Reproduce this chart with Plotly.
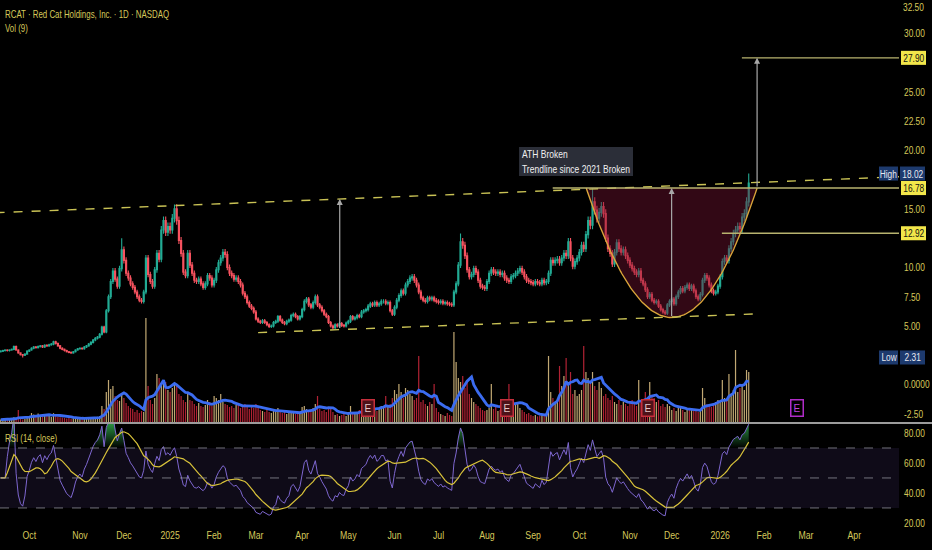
import json
import numpy as np
import pandas as pd
import plotly.graph_objects as go

# ---------------- data ----------------
# daily closes per month
sep24 = [2.85, 2.9, 2.95, 2.9, 2.95, 3.0, 3.25, 2.95, 2.7, 2.55, 2.5, 2.6, 2.85]
oct24 = [2.95, 3.1, 3.2, 3.15, 3.25, 3.3, 3.2, 3.35, 3.3, 3.4, 3.45, 3.65, 3.5, 3.3, 3.1, 3.0, 2.9, 2.8, 2.75, 2.7, 2.8, 2.95, 3.05]
nov24 = [3.1, 3.05, 3.2, 3.3, 3.45, 3.6, 3.8, 3.95, 4.05, 4.3, 4.9, 4.5, 6.3, 7.5, 8.8, 9.7, 9.0, 8.4, 9.9, 11.5]
dec24 = [10.6, 9.5, 9.1, 8.6, 8.3, 7.9, 7.5, 7.2, 7.1, 7.9, 10.8, 9.4, 8.8, 8.4, 9.8, 11.2, 10.7, 13.2, 14.0, 13.0, 13.5]
jan25 = [13.2, 14.2, 15.0, 14.0, 12.3, 11.2, 9.6, 9.3, 11.2, 10.2, 9.5, 8.9, 8.8, 9.0, 8.6, 8.3, 8.6, 9.3, 9.1, 8.5]
feb25 = [8.9, 9.8, 10.4, 10.8, 11.3, 11.1, 10.0, 9.5, 9.3, 9.0, 9.1, 8.8, 8.5, 7.8, 7.5, 7.0, 6.7, 6.5, 6.2]
mar25 = [5.6, 5.4, 5.3, 5.45, 5.3, 5.1, 4.95, 5.0, 5.3, 5.4, 5.8, 5.5, 5.3, 5.2, 5.4, 5.5, 5.9, 6.0, 5.8, 5.6, 5.8]
apr25 = [6.4, 7.1, 7.3, 6.8, 6.6, 7.0, 7.5, 6.8, 6.6, 6.3, 6.0, 5.8, 5.3, 5.0, 4.85, 5.1, 5.0, 5.2, 5.05, 5.0, 5.25]
may25 = [5.4, 5.8, 5.6, 5.7, 5.9, 5.8, 6.2, 6.3, 6.4, 6.7, 6.9, 6.8, 7.0, 6.8, 6.9, 7.1, 7.1, 6.95, 7.0, 6.3, 6.0]
jun25 = [6.6, 7.2, 7.6, 8.0, 7.8, 8.5, 8.8, 9.1, 9.2, 8.9, 8.5, 7.9, 7.4, 7.2, 7.1, 7.4, 7.3, 7.4, 7.2, 7.1]
jul25 = [7.0, 7.1, 6.95, 7.0, 6.9, 6.85, 6.8, 7.9, 8.6, 10.2, 12.2, 11.9, 11.0, 9.8, 9.2, 9.4, 9.9, 9.6, 8.9, 8.4, 8.3, 8.2]
aug25 = [8.8, 9.5, 9.8, 9.6, 9.5, 9.6, 9.4, 9.5, 9.1, 8.9, 8.8, 9.2, 9.3, 9.5, 9.7, 9.9, 9.6, 9.2, 8.9, 8.8, 8.7]
sep25 = [8.6, 8.8, 8.7, 8.6, 8.9, 8.7, 8.8, 9.5, 10.6, 10.4, 10.6, 10.7, 10.4, 10.8, 11.2, 11.0, 12.2, 10.8, 10.1, 10.5, 10.8]
oct25 = [11.3, 11.9, 11.6, 12.8, 14.0, 13.6, 15.6, 14.9, 14.2, 14.7, 15.2, 14.6, 12.5, 11.6, 11.2, 10.3, 11.3, 12.1, 11.6, 11.3, 11.5, 11.0, 10.6]
nov25 = [10.2, 9.9, 9.6, 9.4, 9.7, 8.9, 8.6, 8.1, 7.5, 7.7, 7.2, 7.0, 7.1, 6.7, 6.4, 6.2, 6.1, 6.8, 7.1]
dec25 = [7.3, 6.9, 7.5, 7.9, 8.2, 8.0, 8.3, 8.5, 8.2, 8.4, 8.0, 7.5, 7.3, 7.7, 8.9, 9.3, 9.1, 8.5, 8.0, 7.8, 7.9, 8.4]
jan26 = [9.2, 10.5, 10.8, 10.6, 11.6, 12.2, 12.9, 13.2, 13.5, 13.3, 14.3, 14.6, 15.6, 17.2]

# daily volume (millions of shares) per month
vol_sep24 = [1.2, 1.5, 1.0, 1.8, 1.4, 2.0, 2.4, 1.8, 6.0, 1.5, 1.3, 1.6, 2.2]
vol_oct24 = [3.0, 4.5, 3.8, 3.5, 4.2, 3.0, 2.8, 4.0, 3.2, 3.6, 2.5, 4.4, 3.8, 2.6, 2.4, 2.2, 2.0, 1.8, 2.4, 1.6, 1.9, 2.0, 1.8]
vol_nov24 = [1.8, 1.5, 1.7, 2.0, 2.2, 2.0, 2.5, 2.3, 2.6, 3.0, 8.0, 6.5, 15.0, 21.0, 16.5, 18.0, 13.0, 11.0, 10.5, 14.5]
vol_dec24 = [12.0, 9.5, 8.0, 7.0, 6.5, 5.0, 6.0, 4.5, 5.5, 5.0, 52.0, 18.0, 11.0, 9.0, 12.0, 24.0, 22.0, 19.0, 21.0, 20.0, 16.0]
vol_jan25 = [15.0, 17.0, 19.0, 18.0, 14.0, 13.0, 11.0, 10.0, 15.0, 11.0, 10.5, 9.0, 8.0, 9.5, 8.0, 7.5, 8.5, 11.0, 10.0, 8.0]
vol_feb25 = [13.0, 12.0, 11.0, 14.0, 10.0, 9.0, 8.5, 7.5, 8.0, 7.0, 8.5, 9.5, 7.0, 8.0, 9.0, 7.5, 6.5, 8.0, 7.0]
vol_mar25 = [9.0, 7.0, 6.0, 5.5, 5.0, 6.5, 5.0, 4.5, 6.0, 5.5, 7.0, 5.0, 4.5, 5.0, 4.0, 5.5, 5.0, 4.5, 4.0, 4.8, 4.5]
vol_apr25 = [7.5, 8.0, 6.5, 5.0, 6.0, 7.0, 9.0, 13.0, 6.5, 5.5, 6.0, 5.0, 7.0, 6.5, 5.0, 3.5, 4.0, 3.0, 3.5, 4.5, 3.0]
vol_may25 = [5.0, 8.0, 4.5, 4.0, 5.0, 6.0, 4.5, 5.5, 6.5, 11.0, 9.0, 7.0, 6.0, 5.5, 6.5, 8.0, 7.0, 13.0, 7.5, 9.0, 12.0]
vol_jun25 = [16.0, 14.0, 19.0, 15.0, 12.0, 17.0, 16.0, 14.0, 13.0, 11.0, 12.0, 33.0, 10.0, 11.0, 9.0, 8.0, 10.0, 9.0, 19.0, 7.0]
vol_jul25 = [5.0, 4.0, 3.5, 3.0, 4.5, 3.5, 3.0, 45.0, 30.0, 22.0, 20.0, 23.0, 17.0, 20.0, 14.0, 12.0, 10.0, 9.0, 8.0, 7.0, 6.0, 5.5]
vol_aug25 = [6.0, 7.0, 19.0, 6.5, 8.0, 5.5, 6.0, 7.0, 8.0, 9.0, 19.0, 10.0, 8.5, 9.5, 9.0, 7.0, 6.0, 5.0, 4.0, 4.5, 3.5]
vol_sep25 = [3.0, 3.5, 2.8, 3.2, 4.0, 3.0, 3.5, 33.0, 15.0, 12.0, 10.0, 11.0, 28.0, 18.0, 23.0, 32.0, 20.0, 25.0, 14.0, 16.0, 13.0]
vol_oct25 = [14.0, 16.0, 38.0, 25.0, 22.0, 20.0, 25.0, 18.0, 16.0, 20.0, 17.0, 13.0, 14.0, 12.0, 11.0, 13.0, 10.0, 9.0, 11.0, 8.5, 10.0, 9.0, 8.0]
vol_nov25 = [10.0, 11.0, 9.0, 8.0, 21.0, 10.0, 9.5, 15.0, 11.0, 20.0, 13.0, 12.0, 10.0, 11.0, 8.0, 9.0, 7.5, 9.0, 8.0]
vol_dec25 = [6.0, 7.0, 5.5, 8.0, 7.5, 6.0, 5.0, 6.5, 7.0, 6.0, 5.5, 6.0, 5.0, 5.5, 17.0, 12.0, 9.0, 8.0, 7.5, 9.0, 10.0, 11.0]
vol_jan26 = [10.0, 21.0, 12.0, 11.0, 24.0, 14.0, 16.0, 36.0, 15.0, 17.0, 19.0, 16.0, 26.0, 25.0]

first_open = 2.8
high_marks = {"2024-11-29": 12.5, "2025-01-07": 15.4, "2025-07-16": 12.9,
              "2025-10-09": 16.78, "2026-01-22": 18.02}
low_marks = {"2024-09-26": 2.31}

nyse_holidays = ["2024-11-28", "2024-12-25", "2025-01-01", "2025-01-09", "2025-01-20",
                 "2025-02-17", "2025-04-18", "2025-05-26", "2025-06-19", "2025-07-04",
                 "2025-09-01", "2025-11-27", "2025-12-25", "2026-01-01", "2026-01-19",
                 "2026-02-16", "2026-04-03"]

# drawings (bar-index / price anchors)
upper_trend_x = [0, 400]
upper_trend_p = [14.69, 17.68]
lower_trend_x = [117, 343]
lower_trend_p = [4.43, 6.03]
cup_rim_x = [266.1, 343.8]
cup_rim_p = 16.78
cup_bottom_p = 5.72
target_p = 27.90
handle_p = 12.92
level_starts = {27.90: 336.9, 16.78: 250.9, 12.92: 327.8}
measure_x = 154.1
earnings_dates = ["2025-05-14", "2025-08-14", "2025-11-13"]
next_earnings = "2026-02-24"
note_text = "ATH Broken<br>Trendline since 2021 Broken"
note_box_x = [235.6, 287.4]
note_box_p = [17.81, 20.29]

price_ticks = [-2.5, 0, 5, 7.5, 10, 15, 20, 22.5, 25, 30]
price_tick_text = ["-2.50", "0.0000", "5.00", "7.50", "10.00", "15.00", "20.00", "22.50", "25.00", "30.00"]
top_price_label = "32.50"
rsi_ticks = [20, 40, 60, 80]

# ---------------- build ----------------
closes = sep24 + oct24 + nov24 + dec24 + jan25 + feb25 + mar25 + apr25 + may25 + jun25 + jul25 + aug25 + sep25 + oct25 + nov25 + dec25 + jan26
volumes = (vol_sep24 + vol_oct24 + vol_nov24 + vol_dec24 + vol_jan25 + vol_feb25 + vol_mar25 + vol_apr25 + vol_may25
           + vol_jun25 + vol_jul25 + vol_aug25 + vol_sep25 + vol_oct25 + vol_nov25 + vol_dec25 + vol_jan26)
n = len(closes)
sessions = pd.bdate_range("2024-09-12", "2026-05-29", freq="C", holidays=nyse_holidays)
pos = {d.strftime("%Y-%m-%d"): i for i, d in enumerate(sessions)}
idx = np.arange(n)

opens = [first_open] + closes[:-1]
highs = [max(o, c) * 1.025 for o, c in zip(opens, closes)]
lows = [min(o, c) * 0.975 for o, c in zip(opens, closes)]
for d, v in high_marks.items():
    highs[pos[d]] = v
for d, v in low_marks.items():
    lows[pos[d]] = v

up = [c >= o for o, c in zip(opens, closes)]
vol_colors = ["rgba(214,186,128,0.9)" if u else "rgba(196,38,58,0.9)" for u in up]
vol_ma = pd.Series(volumes).rolling(9, min_periods=1).mean()

s = pd.Series(closes)
dlt = s.diff().fillna(0)
au = dlt.clip(lower=0).ewm(alpha=1 / 14, adjust=True).mean()
ad = (-dlt).clip(lower=0).ewm(alpha=1 / 14, adjust=True).mean()
rsi = 100 - 100 / (1 + au / ad.replace(0, np.nan))
rsi = rsi.fillna(50)
rsi_ma = rsi.rolling(14, min_periods=1).mean()

tickvals, ticktext = [], []
for i in range(1, len(sessions)):
    if sessions[i].month != sessions[i - 1].month:
        tickvals.append(i)
        ticktext.append(str(sessions[i].year) if sessions[i].month == 1 else sessions[i].strftime("%b"))

XR = [-0.32, 408.3]
PLOT_W = 899.0
TXT = "#d6c85a"
FONT = "Liberation Sans, Arial, sans-serif"

fig = go.Figure()

# volume on base axis
fig.add_trace(go.Bar(x=idx, y=volumes, marker_color=vol_colors, marker_line_width=0,
                     yaxis="y", xaxis="x", hoverinfo="skip"))
fig.add_trace(go.Scatter(x=idx, y=vol_ma, mode="lines", line=dict(color="#3b6cf0", width=2.8),
                         yaxis="y", hoverinfo="skip"))

# cup fill
vx = (cup_rim_x[0] + cup_rim_x[1]) / 2
hw = (cup_rim_x[1] - cup_rim_x[0]) / 2
cx = np.linspace(cup_rim_x[0], cup_rim_x[1], 120)
cy = cup_bottom_p + (cup_rim_p - cup_bottom_p) * ((cx - vx) / hw) ** 2
fig.add_trace(go.Scatter(x=cx, y=cy, mode="lines", fill="toself", fillcolor="rgba(120,20,50,0.42)",
                         line=dict(color="#d9a53a", width=1.4), yaxis="y3", hoverinfo="skip"))

# candles
fig.add_trace(go.Candlestick(x=idx, open=opens, high=highs, low=lows, close=closes, yaxis="y3",
                             increasing=dict(line=dict(color="#22ab94", width=1.1), fillcolor="#22ab94"),
                             decreasing=dict(line=dict(color="#f7525f", width=1.1), fillcolor="#f7525f"),
                             whiskerwidth=0, hoverinfo="skip"))

# trendlines
def ext(xs, ps, a, b):
    k = (ps[1] - ps[0]) / (xs[1] - xs[0])
    return [a, b], [ps[0] + k * (a - xs[0]), ps[0] + k * (b - xs[0])]

ux, up_ = ext(upper_trend_x, upper_trend_p, XR[0] - 2, XR[1] + 2)
fig.add_trace(go.Scatter(x=ux, y=up_, mode="lines", line=dict(color="#c9c255", width=1.4, dash="dash"),
                         yaxis="y3", hoverinfo="skip"))
fig.add_trace(go.Scatter(x=lower_trend_x, y=lower_trend_p, mode="lines",
                         line=dict(color="#c9c255", width=1.4, dash="dash"), yaxis="y3", hoverinfo="skip"))
for p, x0 in level_starts.items():
    fig.add_trace(go.Scatter(x=[x0, XR[1] + 2], y=[p, p], mode="lines", line=dict(color="#b8b36f", width=1.4),
                             yaxis="y3", hoverinfo="skip"))

# RSI
fig.add_trace(go.Scatter(x=idx, y=[70] * n, mode="lines", line=dict(width=0), yaxis="y2", hoverinfo="skip"))
fig.add_trace(go.Scatter(x=idx, y=np.maximum(rsi, 70), mode="lines", line=dict(width=0), fill="tonexty",
                         fillgradient=dict(type="vertical", start=70, stop=86,
                                           colorscale=[[0, "rgba(46,160,70,0.0)"], [1, "rgba(46,160,70,0.9)"]]),
                         yaxis="y2", hoverinfo="skip"))
fig.add_trace(go.Scatter(x=idx, y=rsi, mode="lines", line=dict(color="#7e67d0", width=1), yaxis="y2", hoverinfo="skip"))
fig.add_trace(go.Scatter(x=idx, y=rsi_ma, mode="lines", line=dict(color="#d8c23a", width=1.2), yaxis="y2", hoverinfo="skip"))

shapes = [
    dict(type="rect", xref="paper", yref="y2", x0=0, x1=1, y0=30, y1=70, fillcolor="rgba(126,87,194,0.12)",
         line=dict(width=0), layer="below"),
    dict(type="line", xref="paper", yref="paper", x0=0, x1=1.04, y0=0.1973, y1=0.1973,
         line=dict(color="#d0d0d0", width=1.5)),
    dict(type="rect", xref="x", yref="y3", x0=note_box_x[0], x1=note_box_x[1], y0=note_box_p[0], y1=note_box_p[1],
         fillcolor="#2b2e38", line=dict(width=0), layer="above"),
]
for lv in [70, 50, 30]:
    shapes.append(dict(type="line", xref="paper", yref="y2", x0=0, x1=1, y0=lv, y1=lv,
                       line=dict(color="rgba(150,150,160,0.75)", width=1, dash="dash")))

ann = []
squeeze = []

def arrow(x, y0, y1):
    ann.append(dict(x=x, y=y1, ax=x, ay=y0, xref="x", yref="y3", axref="x", ayref="y3", text="",
                    showarrow=True, arrowhead=2, arrowsize=1, arrowwidth=1.2, arrowcolor="#a8a8a8", standoff=0))

k_lo = (lower_trend_p[1] - lower_trend_p[0]) / (lower_trend_x[1] - lower_trend_x[0])
k_up = (upper_trend_p[1] - upper_trend_p[0]) / (upper_trend_x[1] - upper_trend_x[0])
arrow(measure_x, lower_trend_p[0] + k_lo * (measure_x - lower_trend_x[0]), upper_trend_p[0] + k_up * measure_x)
arrow(vx, cup_bottom_p, cup_rim_p)
arrow(cup_rim_x[1], cup_rim_p, target_p)

def label_box(text, price, px0, px1, bg, fg):
    shapes.append(dict(type="rect", xref="paper", yref="y3", x0=px0 / PLOT_W, x1=px1 / PLOT_W,
                       y0=price - 0.6, y1=price + 0.6, fillcolor=bg, line=dict(width=0), layer="above"))
    squeeze.append(len(ann))
    ann.append(dict(x=(px0 + px1) / 2 / PLOT_W, y=price, xref="paper", yref="y3", xanchor="center",
                    yanchor="middle", text=text, showarrow=False,
                    font=dict(color=fg, size=11, family=FONT)))

for p in [target_p, cup_rim_p, handle_p]:
    label_box(f"{p:.2f}", p, 901, 926, "#f2e64a", "#111111")
for lab, p in [("High", 18.02), ("Low", 2.31)]:
    label_box(lab, p, 879, 898, "#1d3a6e", "#e8e8f0")
    label_box(f"{p:.2f}", p, 900, 925, "#1d3a6e", "#e8e8f0")

# top price-scale label, kept just inside the picture
squeeze.append(len(ann))
ann.append(dict(x=1, y=1, xref="paper", yref="paper", xanchor="left", yanchor="top", align="left",
                xshift=2, yshift=1, text=top_price_label, showarrow=False,
                font=dict(color=TXT, size=11, family=FONT)))

squeeze.append(len(ann))
ann.append(dict(x=note_box_x[0], y=(note_box_p[0] + note_box_p[1]) / 2, xref="x", yref="y3", xanchor="left",
                yanchor="middle", align="left", xshift=1, text=note_text, showarrow=False,
                font=dict(color="#f0f0f0", size=11.2, family=FONT)))

for d in earnings_dates:
    ann.append(dict(x=pos[d], y=-2.0, xref="x", yref="y3", text="E", showarrow=False, bgcolor="#4d1219",
                    bordercolor="#c62f3c", borderwidth=1.5, borderpad=2,
                    font=dict(color="#e8c8c8", size=10, family=FONT)))
ann.append(dict(x=pos[next_earnings], y=-2.0, xref="x", yref="y3", text="E", showarrow=False, bgcolor="#000000",
                bordercolor="#b02cc8", borderwidth=1.5, borderpad=2,
                font=dict(color="#c040e0", size=10, family=FONT)))

for txt, yy, ys in [("RCAT · Red Cat Holdings, Inc. · 1D · NASDAQ", 1, -7), ("Vol (9)", 1, -21),
                    ("RSI (14, close)", 0.1954, -7)]:
    squeeze.append(len(ann))
    ann.append(dict(x=0, y=yy, xref="paper", yref="paper", xanchor="left", yanchor="top", align="left",
                    xshift=3, yshift=ys, text=txt, showarrow=False,
                    font=dict(color=TXT, size=10.4, family=FONT)))

fig.update_layout(
    width=932, height=550, margin=dict(l=0, r=33, t=0, b=23, autoexpand=False),
    paper_bgcolor="#000000", plot_bgcolor="#000000", showlegend=False,
    bargap=0.45, font=dict(family=FONT, color=TXT, size=10),
    xaxis=dict(range=XR, anchor="y2", tickvals=tickvals, ticktext=ticktext, showgrid=False, zeroline=False,
               rangeslider=dict(visible=False), ticks="", tickfont=dict(color=TXT, size=11.5), showline=False,
               automargin=False),
    yaxis=dict(domain=[0.19924, 1], range=[0, 211], visible=False, showgrid=False, fixedrange=True,
               automargin=False),
    yaxis3=dict(domain=[0.19924, 1], overlaying="y", range=[-3.2, 32.84], side="right", tickvals=price_ticks,
                ticktext=price_tick_text, showgrid=False, zeroline=False, ticks="", ticklabeloverflow="allow",
                ticklabelstandoff=4, automargin=False, tickfont=dict(color=TXT, size=11)),
    yaxis2=dict(domain=[0, 0.19545], range=[17.3, 86], side="right", tickvals=rsi_ticks,
                ticktext=[f"{t:.2f}" for t in rsi_ticks], showgrid=False, zeroline=False, ticks="",
                ticklabeloverflow="allow", ticklabelstandoff=4, automargin=False,
                tickfont=dict(color=TXT, size=11)),
    shapes=shapes, annotations=ann,
)

js = """
document.body.style.margin='0';document.body.style.background='#000';
var SQ = %s;
function sq(el, s) {
  var ts = el.querySelector('tspan.line');
  var xs = (ts && ts.getAttribute('x')) || el.getAttribute('x') || '0';
  var x = parseFloat(xs);
  var t = el.getAttribute('transform') || '';
  el.setAttribute('transform', t + ' translate(' + x + ',0) scale(' + s + ',1) translate(' + (-x) + ',0)');
}
document.querySelectorAll('.xtick text, .ytick text, .y2tick text, .y3tick text').forEach(function(e){ sq(e, 0.76); });
document.querySelectorAll('.annotation').forEach(function(a){
  var i = parseInt(a.getAttribute('data-index'));
  if (SQ.indexOf(i) >= 0) { a.querySelectorAll('text').forEach(function(e){ sq(e, 0.76); }); }
});
""" % json.dumps(squeeze)

fig.write_html("out.html", config={"displayModeBar": False}, post_script=js)
